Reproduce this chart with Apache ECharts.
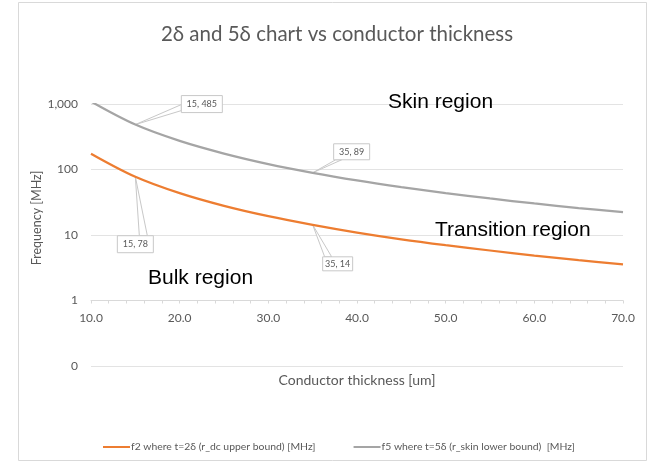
<!DOCTYPE html>
<html>
<head>
<meta charset="utf-8">
<script src="https://cdn.jsdelivr.net/npm/echarts@6/dist/echarts.min.js"></script>
<style>
  html, body { margin: 0; padding: 0; background: #fff; }
  #chart { width: 650px; height: 462px; }
</style>
</head>
<body>
<div id="chart"></div>
<script>
// Conductor thickness [um]
var thickness = [10, 15, 20, 25, 30, 35, 40, 45, 50, 55, 60, 65, 70];
// f2: frequency where t = 2δ (r_dc upper bound) [MHz]
var f2 = [174.6, 77.6, 43.6, 27.9, 19.4, 14.3, 10.9, 8.6, 7.0, 5.8, 4.85, 4.13, 3.56];
// f5: frequency where t = 5δ (r_skin lower bound) [MHz]
var f5 = [1091, 485, 273, 175, 121, 89.1, 68.2, 53.9, 43.6, 36.1, 30.3, 25.8, 22.3];

var seriesNames = [
  'f2 where t=2\u03b4 (r_dc upper bound) [MHz]',
  'f5 where t=5\u03b4 (r_skin lower bound)  [MHz]'
];
// Thicknesses whose values get a callout on each series
var calloutAt = [15, 35];

var FONT = 'Lato, "Open Sans", sans-serif';
var GREY = '#595959';

function pairs(xs, ys) {
  return xs.map(function (x, i) { return [x, ys[i]]; });
}

var chart = echarts.init(document.getElementById('chart'), null, { renderer: 'canvas' });

var option = {
  backgroundColor: '#fff',
  animation: false,
  title: {
    text: '2\u03b4 and 5\u03b4 chart vs conductor thickness',
    left: 332,
    top: 19,
    textAlign: 'center',
    textStyle: { fontFamily: FONT, fontSize: 20.5, fontWeight: 'normal', color: GREY }
  },
  grid: { left: 91, right: 27, top: 104, bottom: 96 },
  legend: {
    left: 98,
    top: 437,
    itemGap: 38,
    itemWidth: 27,
    itemHeight: 2,
    icon: 'rect',
    textStyle: { fontFamily: FONT, fontSize: 10.4, color: GREY, padding: [0, 0, 0, -4] },
    data: seriesNames
  },
  xAxis: {
    type: 'value',
    min: 10,
    max: 70,
    interval: 10,
    offset: -65.5,
    name: 'Conductor thickness [um]',
    nameLocation: 'middle',
    nameGap: 73,
    nameTextStyle: { fontFamily: FONT, fontSize: 14, color: GREY },
    axisLine: { show: true, lineStyle: { color: '#d9d9d9', width: 1 } },
    axisTick: { show: true, length: 3, lineStyle: { color: '#d9d9d9' } },
    minorTick: { show: true, splitNumber: 5, length: 3, lineStyle: { color: '#d9d9d9' } },
    axisLabel: {
      margin: 12,
      fontFamily: FONT, fontSize: 12, color: GREY,
      formatter: function (v) { return v.toFixed(1); }
    },
    splitLine: { show: false }
  },
  yAxis: {
    type: 'log',
    logBase: 10,
    min: 0.1,
    max: 1000,
    axisLine: { show: false },
    axisTick: { show: false },
    axisLabel: {
      margin: 13,
      fontFamily: FONT, fontSize: 12, color: GREY,
      formatter: function (v) { return v < 1 ? '0' : Math.round(v).toLocaleString('en-US'); }
    },
    splitLine: { show: true, lineStyle: { color: '#e3e3e3', width: 1 } }
  },
  series: [
    {
      name: seriesNames[0],
      type: 'line',
      data: pairs(thickness, f2),
      smooth: 0.35,
      showSymbol: false,
      color: '#ED7D31',
      lineStyle: { width: 2.25, color: '#ED7D31' },
      z: 3
    },
    {
      name: seriesNames[1],
      type: 'line',
      data: pairs(thickness, f5),
      smooth: 0.35,
      showSymbol: false,
      color: '#A5A5A5',
      lineStyle: { width: 2.25, color: '#A5A5A5' },
      z: 3
    }
  ]
};

chart.setOption(option);

// Callout layout per series / thickness: box offset from the point, box size, wedge anchors
var calloutStyle = [
  // f2 series
  {
    15: { box: [-18, 59, 36, 17], wedge: [[4, 59], [12, 59]] },
    35: { box: [10, 32, 30, 14], wedge: [[12, 32], [19, 32]] }
  },
  // f5 series
  {
    15: { box: [46, -29, 41, 17], wedge: [[46, -20], [46, -14]] },
    35: { box: [21, -29, 36, 16], wedge: [[23, -13], [29, -13]] }
  }
];

var seriesValues = [f2, f5];
var graphics = [];

seriesValues.forEach(function (vals, si) {
  calloutAt.forEach(function (t) {
    var idx = thickness.indexOf(t);
    var v = vals[idx];
    var p = chart.convertToPixel({ seriesIndex: si }, [t, v]);
    var s = calloutStyle[si][t];
    var b = s.box;
    graphics.push({
      type: 'group',
      x: p[0], y: p[1],
      z: 10,
      children: [
        {
          type: 'polygon',
          shape: { points: [[0, 0], s.wedge[0], s.wedge[1]] },
          style: { fill: '#fff', stroke: '#c8c8c8', lineWidth: 1 }
        },
        {
          type: 'rect',
          shape: { x: b[0], y: b[1], width: b[2], height: b[3] },
          style: { fill: '#fff', stroke: '#c8c8c8', lineWidth: 1 }
        },
        {
          type: 'text',
          x: b[0] + b[2] / 2, y: b[1] + b[3] / 2,
          style: {
            text: t + ', ' + Math.round(v),
            fontFamily: FONT, fontSize: 9, fill: GREY,
            align: 'center', verticalAlign: 'middle'
          }
        }
      ]
    });
  });
});

// Region annotations
var regionFont = '21px "Liberation Sans", Arial, sans-serif';
[
  { text: 'Skin region', x: 388, y: 102 },
  { text: 'Transition region', x: 435, y: 230 },
  { text: 'Bulk region', x: 148, y: 278 }
].forEach(function (r) {
  graphics.push({
    type: 'text', x: r.x, y: r.y, z: 12,
    style: { text: r.text, font: regionFont, fill: '#000', align: 'left', verticalAlign: 'middle' }
  });
});

// Vertical axis title
graphics.push({
  type: 'text', x: 37, y: 218, rotation: Math.PI / 2, z: 12,
  style: {
    text: 'Frequency [MHz]', fontFamily: FONT, fontSize: 12.5, fill: GREY,
    align: 'center', verticalAlign: 'middle'
  }
});

// Chart frame
graphics.push({
  type: 'rect', z: 0,
  shape: { x: 18.5, y: 2.5, width: 628, height: 458 },
  style: { fill: 'none', stroke: '#d9d9d9', lineWidth: 1 }
});

chart.setOption({ graphic: graphics });
</script>
</body>
</html>
